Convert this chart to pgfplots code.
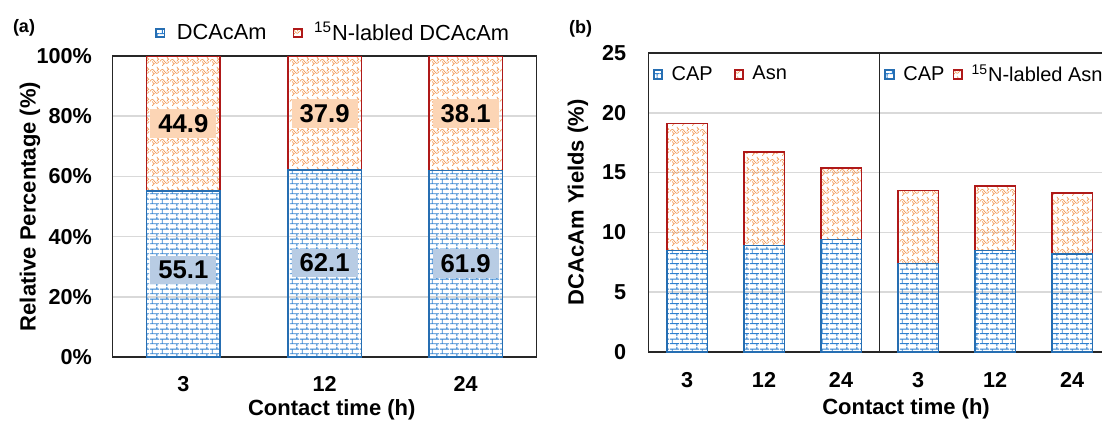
\documentclass[border=0pt]{standalone}
\usepackage{pgfplots}
\pgfplotsset{compat=1.18}
\usepackage{fontspec}
\setmainfont{Liberation Sans}
\usetikzlibrary{patterns.meta}
\definecolor{cBlue}{RGB}{38,110,178}
\definecolor{cBlueL}{RGB}{45,128,208}
\definecolor{cRed}{RGB}{175,25,25}
\definecolor{cOrange}{RGB}{242,150,80}
\definecolor{cGrid}{RGB}{217,217,217}
\definecolor{cBoxBlue}{RGB}{184,204,228}
\definecolor{cBoxPeach}{RGB}{252,213,181}
\tikzdeclarepattern{
  name=mybricks,
  type=uncolored,
  bounding box={(0pt,0pt) and (5pt,5pt)},
  tile size={(5pt,5pt)},
  code={
    \draw[line width=0.5pt] (0pt,1.25pt)--(5pt,1.25pt) (0pt,3.75pt)--(5pt,3.75pt)
      (1.25pt,1.25pt)--(1.25pt,3.75pt) (3.75pt,3.75pt)--(3.75pt,5pt) (3.75pt,0pt)--(3.75pt,1.25pt);
  }
}
\tikzdeclarepattern{
  name=mywaves,
  type=uncolored,
  bounding box={(0pt,0pt) and (5pt,5pt)},
  tile size={(5pt,5pt)},
  code={
    \draw[line width=0.35pt] (0pt,2.5pt) sin (1.25pt,3.6pt) cos (2.5pt,2.5pt) sin (3.75pt,1.4pt) cos (5pt,2.5pt);
    \draw[line width=0.35pt] (1.25pt,0pt) sin (2.35pt,1.25pt) cos (1.25pt,2.5pt);
    \draw[line width=0.35pt] (3.75pt,2.5pt) sin (4.85pt,3.75pt) cos (3.75pt,5pt);
  }
}
\pgfplotsset{
  capstyle/.style={draw=cBlue, line width=0.8pt, pattern=mybricks, pattern color=cBlueL},
  asnstyle/.style={draw=cRed, line width=0.8pt, pattern=mywaves, pattern color=cOrange},
  common/.style={
    scale only axis,
    anchor=south west,
    ybar stacked,
    major tick length=0pt,
    ymajorgrids,
    grid style={draw=cGrid, line width=0.75pt},
    axis line style={draw=black!85, line width=0.7pt},
    ticklabel style={font=\fontsize{10.8}{12}\selectfont\bfseries, inner sep=0pt},
    xticklabel style={anchor=center},
    legend cell align=left,
    legend image code/.code={\draw[##1, line width=0.9pt] (0pt,-2.1pt) rectangle (4.2pt,2.1pt);},
  },
}
\begin{document}
\begin{tikzpicture}
% ---------------- panel (a)
\begin{axis}[common,
  at={(56.4pt,34pt)}, width=211.75pt, height=150.5pt,
  bar width=36.75pt,
  xmin=-0.5, xmax=2.5, ymin=0, ymax=100,
  xtick={0,1,2}, xticklabels={3,12,24},
  ytick={0,20,40,60,80,100},
  yticklabels={0\%,20\%,40\%,60\%,80\%,100\%},
  yticklabel style={anchor=east, xshift=-10.3pt},
  xticklabel style={yshift=-13.3pt},
  xlabel={Contact time (h)},
  ylabel={Relative Percentage (\%)},
  every axis x label/.style={at={(axis description cs:0.517,0)}, anchor=center, yshift=-26.5pt, font=\fontsize{11}{13}\selectfont\bfseries},
  every axis y label/.style={at={(axis description cs:-0.1955,0.5)}, rotate=90, anchor=center, font=\fontsize{11}{13}\selectfont\bfseries},
  legend columns=2,
  legend style={at={(axis description cs:0.0992,1.0764)}, anchor=west, draw=none, fill=none, inner sep=0pt,
    font=\fontsize{10.9}{12}\selectfont, nodes={inner sep=0pt},
    /tikz/every odd column/.append style={column sep=5.75pt},
    /tikz/every even column/.append style={column sep=13pt}},
]
\addplot[capstyle] coordinates {(0,55.1) (1,62.1) (2,61.9)};
\addlegendentry{DCAcAm}
\addplot[asnstyle] coordinates {(0,44.9) (1,37.9) (2,38.1)};
\addlegendentry{\textsuperscript{15}N-labled DCAcAm}
\coordinate (b1) at (axis cs:0,29.0);
\coordinate (b2) at (axis cs:1,31.2);
\coordinate (b3) at (axis cs:2,31.1);
\coordinate (p1) at (axis cs:0,77.6);
\coordinate (p2) at (axis cs:1,81.0);
\coordinate (p3) at (axis cs:2,81.0);
\end{axis}
\tikzset{lblB/.style={fill=cBoxBlue, inner xsep=4pt, inner ysep=2.6pt, font=\fontsize{12.85}{14}\selectfont\bfseries},
         lblP/.style={fill=cBoxPeach, inner xsep=4pt, inner ysep=2.6pt, font=\fontsize{12.85}{14}\selectfont\bfseries}}
\node[lblB] at (b1) {55.1};
\node[lblB] at (b2) {62.1};
\node[lblB] at (b3) {61.9};
\node[lblP] at (p1) {44.9};
\node[lblP] at (p2) {37.9};
\node[lblP] at (p3) {38.1};
% ---------------- panel (b), left half
\begin{axis}[common,
  at={(324.25pt,36.5pt)}, width=115.5pt, height=149.5pt,
  bar width=20.3pt,
  xmin=-0.5, xmax=2.5, ymin=0, ymax=25,
  xtick={0,1,2}, xticklabels={3,12,24},
  ytick={0,5,10,15,20,25},
  yticklabels={0,5,10,15,20,25},
  yticklabel style={anchor=east, xshift=-11pt},
  xticklabel style={yshift=-14pt},
  xlabel={Contact time (h)},
  ylabel={DCAcAm Yields (\%)},
  every axis x label/.style={at={(axis description cs:1.115,0)}, anchor=center, yshift=-28.5pt, font=\fontsize{11}{13}\selectfont\bfseries},
  every axis y label/.style={at={(axis description cs:-0.305,0.5)}, rotate=90, anchor=center, font=\fontsize{11}{13}\selectfont\bfseries},
  legend columns=2,
  legend style={at={(axis description cs:0.0173,0.928)}, anchor=west, draw=none, fill=none, inner sep=0pt,
    font=\fontsize{10}{12}\selectfont, nodes={inner sep=0pt},
    /tikz/every odd column/.append style={column sep=4.25pt},
    /tikz/every even column/.append style={column sep=10.5pt}},
]
\addplot[capstyle] coordinates {(0,8.5) (1,8.9) (2,9.4)};
\addlegendentry{CAP}
\addplot[asnstyle] coordinates {(0,10.6) (1,7.8) (2,6.0)};
\addlegendentry{Asn}
\end{axis}
% ---------------- panel (b), right half
\begin{axis}[common,
  at={(439.75pt,36.5pt)}, width=115.5pt, height=149.5pt,
  bar width=20.3pt,
  xmin=-0.5, xmax=2.5, ymin=0, ymax=25,
  xtick={0,1,2}, xticklabels={3,12,24},
  ytick={0,5,10,15,20,25},
  yticklabels={},
  xticklabel style={yshift=-14pt},
  legend columns=2,
  legend style={at={(axis description cs:0.0195,0.928)}, anchor=west, draw=none, fill=none, inner sep=0pt,
    font=\fontsize{10}{12}\selectfont, nodes={inner sep=0pt},
    /tikz/every odd column/.append style={column sep=4.4pt},
    /tikz/every even column/.append style={column sep=4pt}},
]
\addplot[capstyle] coordinates {(0,7.4) (1,8.5) (2,8.2)};
\addlegendentry{CAP}
\addplot[asnstyle] coordinates {(0,6.1) (1,5.4) (2,5.1)};
\addlegendentry{\textsuperscript{15}N-labled Asn}
\end{axis}
\node[font=\fontsize{9}{10}\selectfont\bfseries] at (12pt,198.5pt) {(a)};
\node[font=\fontsize{9}{10}\selectfont\bfseries] at (290.25pt,198pt) {(b)};
\pgfresetboundingbox
\path[use as bounding box] (0pt,0pt) rectangle (551pt,212.5pt);
\end{tikzpicture}
\end{document}
